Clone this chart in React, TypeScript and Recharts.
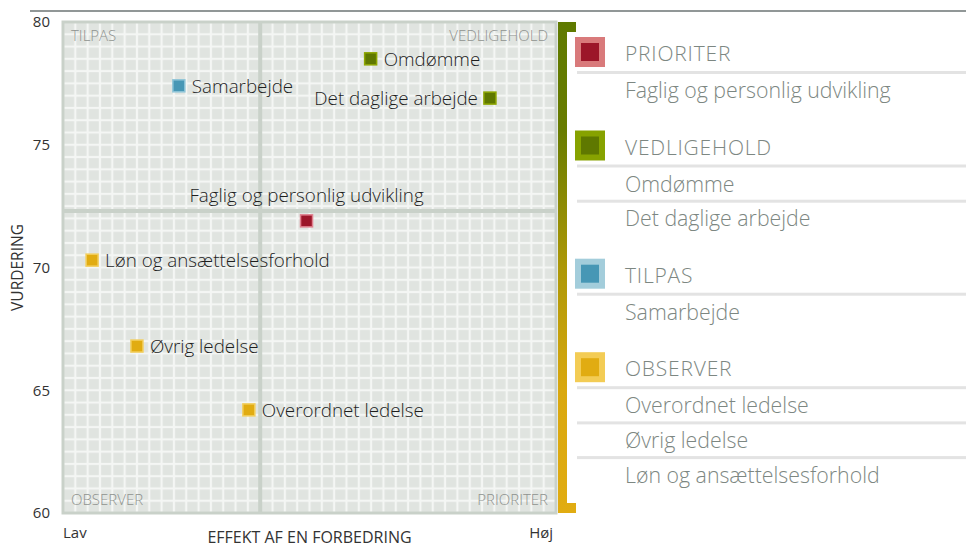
import React from 'react';
import {
  ScatterChart,
  Scatter,
  XAxis,
  YAxis,
  ReferenceArea,
  ReferenceLine,
  Customized,
  Label,
} from 'recharts';

// ---------- data ----------
const names = [
  'Faglig og personlig udvikling',
  'Omdømme',
  'Det daglige arbejde',
  'Samarbejde',
  'Overordnet ledelse',
  'Øvrig ledelse',
  'Løn og ansættelsesforhold',
];
const effekt = [49.4, 62.4, 86.6, 23.5, 37.7, 15.0, 5.9];
const vurdering = [71.9, 78.5, 76.9, 77.4, 64.2, 66.8, 70.3];
const groupOf = [
  'PRIORITER',
  'VEDLIGEHOLD',
  'VEDLIGEHOLD',
  'TILPAS',
  'OBSERVER',
  'OBSERVER',
  'OBSERVER',
];
const groups = ['PRIORITER', 'VEDLIGEHOLD', 'TILPAS', 'OBSERVER'];
const yTicks = [60, 65, 70, 75, 80];
const xTicks = [0, 100];
const xTickLabels = ['Lav', 'Høj'];
const xSplit = 40;
const ySplit = 72.3;
const xTitle = 'EFFEKT AF EN FORBEDRING';
const yTitle = 'VURDERING';

// ---------- styles ----------
const FONT = "'Open Sans', sans-serif";
const groupColors: Record<string, { dark: string; light: string; legendLight: string }> = {
  PRIORITER: { dark: '#9c1629', light: '#e0808e', legendLight: '#d97a7b' },
  VEDLIGEHOLD: { dark: '#5f7800', light: '#8da600', legendLight: '#87a200' },
  TILPAS: { dark: '#4797b5', light: '#8fc5d8', legendLight: '#a3cddb' },
  OBSERVER: { dark: '#e1ac12', light: '#f3cf5e', legendLight: '#f3cc55' },
};
const labelPlace: Record<string, string> = {
  'Det daglige arbejde': 'left',
  'Faglig og personlig udvikling': 'top',
};

const seriesData = groups.map((g) =>
  names
    .map((n, i) => ({ name: n, x: effekt[i], y: vurdering[i], g: groupOf[i] }))
    .filter((d) => d.g === g)
);

const makeShape = (g: string) => (props: any) => {
  const { cx, cy, payload } = props;
  const c = groupColors[g];
  const place = labelPlace[payload.name] || 'right';
  let tx = cx + 13;
  let ty = cy;
  let anchor: any = 'start';
  if (place === 'left') {
    tx = cx - 12;
    anchor = 'end';
  } else if (place === 'top') {
    tx = cx;
    ty = cy - 26;
    anchor = 'middle';
  }
  return (
    <g>
      <rect x={cx - 6} y={cy - 6} width={12} height={12} fill={c.dark} stroke={c.light} strokeWidth={1.5} />
      <text
        x={tx}
        y={ty}
        textAnchor={anchor}
        dominantBaseline="central"
        fontSize={18.8}
        fontWeight={300}
        fill="#1e1e1e"
        fontFamily={FONT}
      >
        {payload.name}
      </text>
    </g>
  );
};

const XTick = (props: any) => {
  const { x, y, payload, index } = props;
  const i = xTicks.indexOf(payload.value);
  const anchor = i === 0 ? 'start' : 'end';
  const dx = i === 0 ? 0 : -3;
  return (
    <text
      x={x + dx}
      y={y + 19}
      textAnchor={anchor}
      dominantBaseline="central"
      fontSize={15}
      fill="#333"
      fontFamily={FONT}
    >
      {xTickLabels[i >= 0 ? i : index]}
    </text>
  );
};

const XTitle = (props: any) => {
  const vb = props.viewBox;
  return (
    <text
      x={vb.x + vb.width / 2}
      y={vb.y + vb.height - 0.5}
      textAnchor="middle"
      fontSize={16}
      fill="#333"
      fontFamily={FONT}
    >
      {xTitle}
    </text>
  );
};

const YTitle = (props: any) => {
  const vb = props.viewBox;
  const x = vb.x + 17;
  const y = vb.y + vb.height / 2;
  return (
    <text
      x={x}
      y={y}
      transform={`rotate(-90 ${x} ${y})`}
      textAnchor="middle"
      dominantBaseline="central"
      fontSize={15.5}
      fill="#333"
      fontFamily={FONT}
    >
      {yTitle}
    </text>
  );
};

const Decor = () => {
  const els: any[] = [];
  let b = 61;
  groups.forEach((g) => {
    const c = groupColors[g];
    const items = names.filter((_, i) => groupOf[i] === g);
    els.push(<rect key={g + 'o'} x={575} y={b - 24} width={30} height={30} fill={c.legendLight} />);
    els.push(<rect key={g + 'i'} x={581} y={b - 18} width={18} height={18} fill={c.dark} />);
    els.push(
      <text key={g + 't'} x={625} y={b} fontSize={21} letterSpacing={0.8} fill="#7d8782" fontFamily={FONT} fontWeight={300}>
        {g}
      </text>
    );
    let lineY = b + 11.5;
    let ib = b + 37;
    items.forEach((it) => {
      els.push(<rect key={it + 'l'} x={577} y={lineY - 1.5} width={389} height={3} fill="#e3e3e3" />);
      els.push(
        <text key={it + 't'} x={625} y={ib} fontSize={21.3} fill="#7d8782" fontFamily={FONT} fontWeight={300}>
          {it}
        </text>
      );
      lineY = ib + 9.7;
      ib += 34.7;
    });
    b = ib - 34.7 + 56.5;
  });
  return (
    <g>
      <defs>
        <pattern id="cellGrid" patternUnits="userSpaceOnUse" x={63} y={22} width={12.325} height={12.275}>
          <rect width={12.325} height={12.275} fill="#f4f6f4" />
          <rect x={1.1} y={1.1} width={10.1} height={10.1} fill="#e0e4e0" />
        </pattern>
        <linearGradient id="bracketGrad" x1="0" y1="0" x2="0" y2="1">
          <stop offset="0" stopColor="#5f7a00" />
          <stop offset="0.22" stopColor="#687c00" />
          <stop offset="0.5" stopColor="#ad9807" />
          <stop offset="0.75" stopColor="#d9a80f" />
          <stop offset="1" stopColor="#e1ac12" />
        </linearGradient>
      </defs>
      <line x1={30} y1={11} x2={966} y2={11} stroke="#6d7474" strokeWidth={1.5} />
      <path
        d="M558 22 H576 V32 H567 V503 H576 V513 H558 Z"
        fill="url(#bracketGrad)"
      />
      {els}
    </g>
  );
};

const quadLabel = (value: string, position: string) => ({
  value,
  position,
  offset: 8,
  fontSize: 15,
  fontWeight: 300,
  fill: '#8f938f',
  fontFamily: FONT,
});

export default function App() {
  return (
    <div style={{ position: 'absolute', left: 0, top: 0, width: 966, height: 543, fontFamily: FONT }}>
      <ScatterChart width={966} height={543} margin={{ top: 22, right: 410, bottom: 0, left: 0 }}>
        <Customized component={Decor} />
        <XAxis
          type="number"
          dataKey="x"
          domain={[0, 100]}
          ticks={xTicks}
          axisLine={false}
          tickLine={false}
          tickSize={0}
          tickMargin={0}
          height={30}
          tick={<XTick />}
          interval={0}
        >
          <Label content={<XTitle />} />
        </XAxis>
        <YAxis
          type="number"
          dataKey="y"
          domain={[60, 80]}
          ticks={yTicks}
          axisLine={false}
          tickLine={false}
          tickSize={0}
          tickMargin={13}
          width={63}
          interval={0}
          tick={{ fontSize: 15, fill: '#333', fontFamily: FONT }}
        >
          <Label content={<YTitle />} />
        </YAxis>
        <ReferenceArea
          x1={0}
          x2={100}
          y1={60}
          y2={80}
          fill="url(#cellGrid)"
          fillOpacity={1}
          stroke="#c9d1c9"
          strokeWidth={3}
        />
        <ReferenceLine x={xSplit} stroke="#c9d1c9" strokeWidth={4} />
        <ReferenceLine y={ySplit} stroke="#c9d1c9" strokeWidth={4} />
        <ReferenceArea x1={0} x2={xSplit} y1={ySplit} y2={80} fill="none" stroke="none"
          label={quadLabel('TILPAS', 'insideTopLeft')} />
        <ReferenceArea x1={xSplit} x2={100} y1={ySplit} y2={80} fill="none" stroke="none"
          label={quadLabel('VEDLIGEHOLD', 'insideTopRight')} />
        <ReferenceArea x1={0} x2={xSplit} y1={60} y2={ySplit} fill="none" stroke="none"
          label={quadLabel('OBSERVER', 'insideBottomLeft')} />
        <ReferenceArea x1={xSplit} x2={100} y1={60} y2={ySplit} fill="none" stroke="none"
          label={quadLabel('PRIORITER', 'insideBottomRight')} />
        {groups.map((g, i) => (
          <Scatter
            key={g}
            name={g}
            data={seriesData[i]}
            shape={makeShape(g)}
            isAnimationActive={false}
          />
        ))}
      </ScatterChart>
    </div>
  );
}
